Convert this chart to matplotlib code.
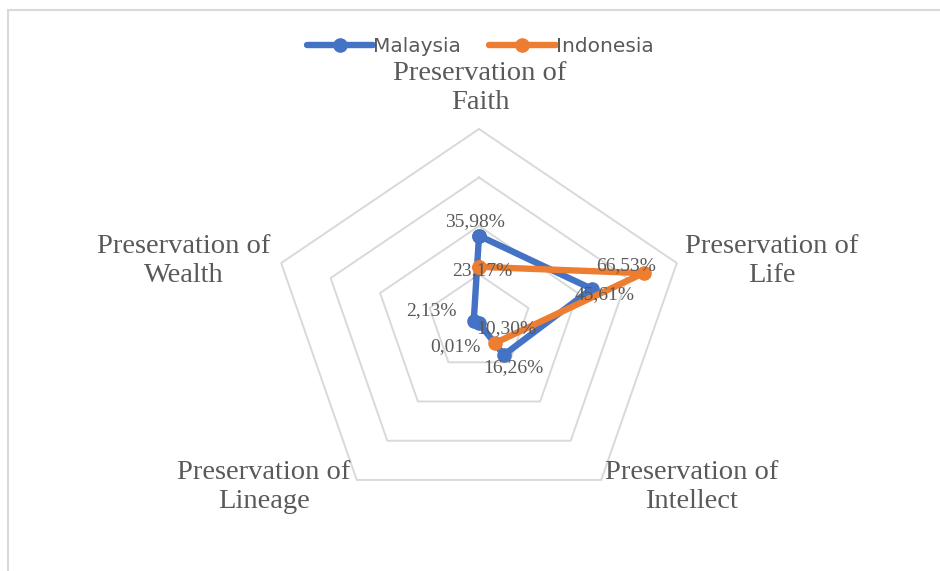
import numpy as np
import matplotlib.pyplot as plt

# data
categories = ["Preservation of\nFaith", "Preservation of\nLife", "Preservation of\nIntellect",
              "Preservation of\nLineage", "Preservation of\nWealth"]
malaysia = [35.98, 45.61, 16.26, 0.01, 2.13]
indonesia = [23.17, 66.53, 10.30, np.nan, np.nan]   # no value -> gap in the line
grid_levels = [20, 40, 60, 80]
series_names = ["Malaysia", "Indonesia"]

# layout (pixels)
W, H = 940, 571
cx, cy = 479, 323          # centre, measured from top-left
rx, ry = 208, 194          # radius of outer ring (chart is a bit stretched sideways)
rmax = grid_levels[-1]
blue, orange = "#4472C4", "#ED7D31"
grey_text = "#595959"
grid_col = "#D9D9D9"

sx, sy = rx / rmax, ry / rmax
fig = plt.figure(figsize=(W / 100, H / 100), dpi=100)
ax = fig.add_axes([0, 0, 1, 1])
ax.set_xlim(-cx / sx, (W - cx) / sx)
ax.set_ylim(-(H - cy) / sy, cy / sy)
ax.axis("off")

angles = np.deg2rad(90 - 72 * np.arange(len(categories)))


def to_xy(vals):
    vals = np.asarray(vals, dtype=float)
    return vals * np.cos(angles), vals * np.sin(angles)


def closed(a):
    return np.append(a, a[0])


# pentagon grid
for lvl in grid_levels:
    gx, gy = to_xy([lvl] * len(categories))
    ax.plot(closed(gx), closed(gy), color=grid_col, lw=1.4, zorder=1)

# category labels
vx, vy = to_xy([rmax] * len(categories))
cat_offsets = [(1, 41), (8, 2), (4, -7), (-6, -7), (-11, 2)]
cat_ha = ["center", "left", "left", "right", "right"]
for i, lab in enumerate(categories):
    ax.annotate(lab, (vx[i], vy[i]), xytext=cat_offsets[i], textcoords="offset pixels",
                ha=cat_ha[i], va="center", multialignment="center", linespacing=1.22,
                fontsize=20.5, family="Liberation Serif", color=grey_text)

# series
for vals, col, name, z in [(malaysia, blue, series_names[0], 3), (indonesia, orange, series_names[1], 4)]:
    x, y = to_xy(vals)
    ax.plot(closed(x), closed(y), color=col, lw=4.6, marker="o", ms=9.5,
            solid_joinstyle="round", solid_capstyle="round", label=name, zorder=z)

# data labels
mal_offsets = [(-4, 14), (13, -6), (9, -13), (-24, -24), (-42, 11)]
ind_offsets = [(3, -4), (-17, 8), (12, 15), (0, 0), (0, 0)]
for vals, offs in [(malaysia, mal_offsets), (indonesia, ind_offsets)]:
    x, y = to_xy(vals)
    for i, v in enumerate(vals):
        if np.isnan(v):
            continue
        txt = f"{v:.2f}%".replace(".", ",")
        ax.annotate(txt, (x[i], y[i]), xytext=offs[i], textcoords="offset pixels",
                    ha="center", va="center", fontsize=14, family="Liberation Serif",
                    color=grey_text, zorder=6)

leg = ax.legend(loc="center", bbox_to_anchor=(480 / W, 1 - 47 / H), ncol=2, frameon=False,
                handlelength=3.3, handletextpad=0.0, columnspacing=1.4,
                prop={"family": "DejaVu Sans", "size": 14.5}, labelcolor=grey_text)

# chart frame (only left and top edges visible in the crop)
fig.add_artist(plt.Rectangle((8 / W, -0.1), 1.2, 1.1 - 10 / H, transform=fig.transFigure,
                             fill=False, ec=grid_col, lw=1.5))

fig.savefig("out.png", dpi=100)
